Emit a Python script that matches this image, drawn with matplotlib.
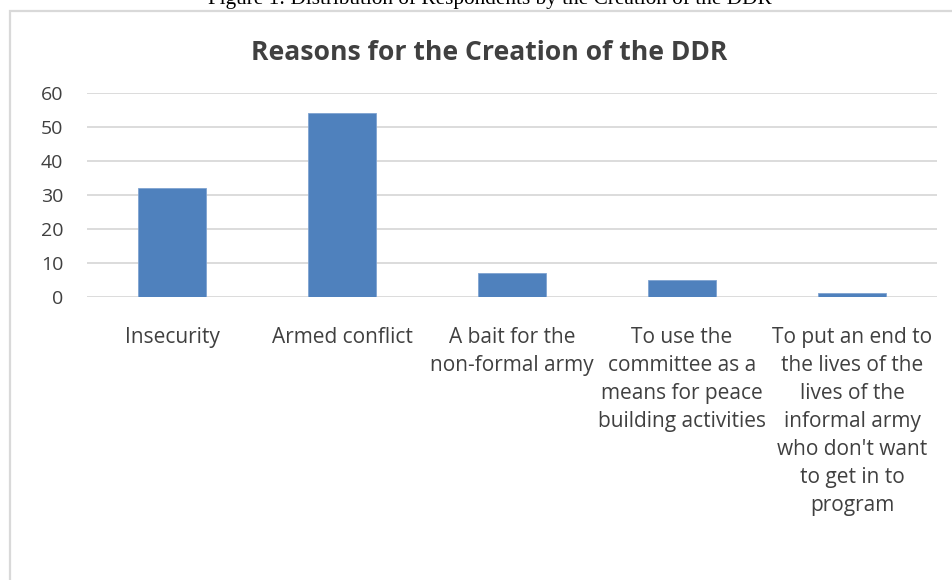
import numpy as np
import matplotlib.pyplot as plt
from matplotlib.patches import Rectangle

categories = [
    "Insecurity",
    "Armed conflict",
    "A bait for the\nnon-formal army",
    "To use the\ncommittee as a\nmeans for peace\nbuilding activities",
    "To put an end to\nthe lives of the\nlives of the\ninformal army\nwho don't want\nto get in to\nprogram",
]
counts = [32, 54, 7, 5, 1]
yticks = [0, 10, 20, 30, 40, 50, 60]

W, H = 952, 580
fig = plt.figure(figsize=(W / 100, H / 100), dpi=100)
fig.patch.set_facecolor("white")

# chart frame (runs off the right/bottom edge like the screenshot)
fig.add_artist(Rectangle((10 / W, -0.05), 1.0, 1 - 11 / H + 0.05,
                         transform=fig.transFigure, fill=False,
                         edgecolor="#D9D9D9", lw=1.6))

fig.text(490 / W, 1 - 4 / H,
         "Figure 1: Distribution of Respondents by the Creation of the DDR",
         ha="center", va="baseline", family="Liberation Serif", fontsize=15.3,
         color="black")

fig.text(489 / W, 1 - 60 / H, "Reasons for the Creation of the DDR",
         ha="center", va="baseline", family="Open Sans", fontweight="bold",
         fontsize=19.1, color="#404040")

ax = fig.add_axes([87 / W, 1 - 296.7 / H, 850 / W, 204 / H])
x = np.arange(len(categories))
ax.bar(x, counts, width=0.4, color="#4F81BD", edgecolor="#7FA3D1",
       linewidth=0.6, zorder=3)
ax.set_xlim(-0.5, len(categories) - 0.5)
ax.set_ylim(0, 60)
ax.set_yticks(yticks)
ax.set_xticks(x)
ax.set_xticklabels(categories, family="Open Sans", fontsize=15,
                   color="#404040", linespacing=1.44, va="top")
for lab in ax.get_yticklabels():
    lab.set_family("Open Sans")
    lab.set_fontsize(14)
    lab.set_color("#404040")
ax.tick_params(axis="both", length=0)
ax.tick_params(axis="x", pad=22)
ax.tick_params(axis="y", pad=17)
ax.yaxis.grid(True, color="#D9D9D9", lw=1.3, zorder=0)
ax.set_axisbelow(True)
for s in ax.spines.values():
    s.set_visible(False)

fig.savefig("out.png", dpi=100)
